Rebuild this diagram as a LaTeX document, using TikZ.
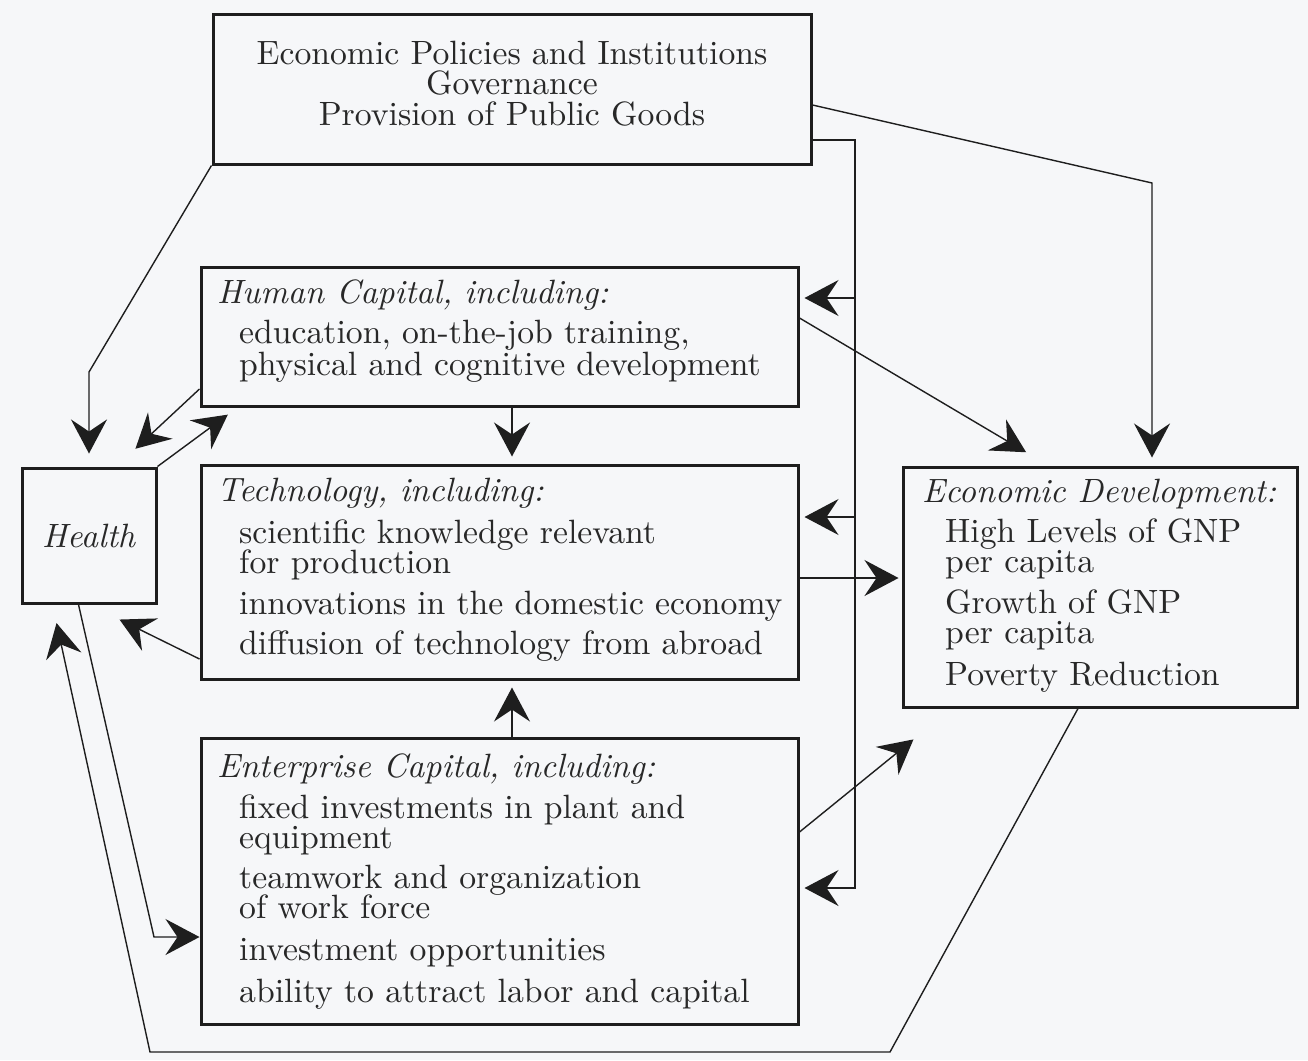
\documentclass[tikz,border=0pt]{standalone}
\usepackage{fontspec}
\setmainfont{lmroman10}[Extension=.otf, UprightFont=*-regular, ItalicFont=*-italic]
\usetikzlibrary{arrows.meta,calc}
\definecolor{bg}{RGB}{246,247,249}
\definecolor{ink}{RGB}{30,30,30}
\definecolor{textc}{RGB}{40,40,40}
\tikzset{
  box/.style={draw=ink, line width=3pt, inner sep=0pt},
  txt/.style={anchor=base west, inner sep=0pt, text=textc, font=\fontsize{33.7}{30}\selectfont},
  conn/.style={draw=ink, line width=1.4pt},
  arr/.style={conn, -{Stealth[length=34pt, width=36pt, inset=12pt]}},
}
\begin{document}
\begin{tikzpicture}[x=1pt, y=-1pt]
  \fill[bg] (0,0) rectangle (1308,1060);
  % boxes
  \node[box, minimum width=598pt, minimum height=150pt] (policy) at (512,89) {};
  \node[box, minimum width=597pt, minimum height=139pt] (hcap) at (499.5,336.5) {};
  \node[box, minimum width=597pt, minimum height=214pt] (tech) at (499.5,572) {};
  \node[box, minimum width=597pt, minimum height=286pt] (ent) at (499.5,881) {};
  \node[box, txt, anchor=center, minimum width=134pt, minimum height=135pt] (health) at (89,535.5) {\textit{Health}};
  \node[box, minimum width=394pt, minimum height=240pt] (econ) at (1100,587) {};
  % texts
  \foreach \t [count=\n] in {Economic Policies and Institutions, Governance, Provision of Public Goods}
    \node[txt, anchor=base] (pol\n) at (512,33.5+30.5*\n) {\t};
  \foreach \x/\y/\t [count=\n] in {
        217/303/\textit{Human Capital, including:},
        239/343/{education, on-the-job training,},
        239/375/physical and cognitive development
  }
    \node[txt] (hc\n) at (\x,\y) {\t};
  \foreach \x/\y/\t [count=\n] in {
        217/501/\textit{Technology, including:},
        239/543/scientific knowledge relevant,
        239/573/for production,
        239/614/innovations in the domestic economy,
        239/654/diffusion of technology from abroad
  }
    \node[txt] (te\n) at (\x,\y) {\t};
  \foreach \x/\y/\t [count=\n] in {
        217/777/\textit{Enterprise Capital, including:},
        239/818/fixed investments in plant and,
        239/848/equipment,
        239/888/teamwork and organization,
        239/918/of work force,
        239/960/investment opportunities,
        239/1002/ability to attract labor and capital
  }
    \node[txt] (en\n) at (\x,\y) {\t};
  \foreach \x/\y/\t [count=\n] in {
        922/502/\textit{Economic Development:},
        945/542/High Levels of GNP,
        945/572/per capita,
        945/613/Growth of GNP,
        945/643/per capita,
        945/685/Poverty Reduction
  }
    \node[txt] (ed\n) at (\x,\y) {\t};
  % policies
  \draw[arr, shorten >=13pt] (policy.south west) -- (health.north |- 0,372) -- (health.north);
  \coordinate (bus) at (855,140);
  \draw[arr, shorten >=5pt] (policy.east |- bus) -- (bus) |- (ent.east |- 0,888);
  \draw[arr, shorten >=5pt] (bus |- 0,298) -- (hcap.east |- 0,298);
  \draw[arr, shorten >=5pt] (bus |- 0,517) -- (tech.east |- 0,517);
  \draw[arr, shorten >=8pt] (policy.east |- 0,105) -- (1152,183) -- (econ.north -| 1152,0);
  % health and the capitals
  \draw[arr, shorten >=26pt] (hcap.west |- 0,389) -- ($(health.north east)!0.3!(health.north west)$);
  \draw[arr, shorten >=12pt] (health.north east) -- ($(hcap.south west)+(38,0)$);
  \draw[arr, shorten >=34pt] (tech.west |- 0,659) -- (health.south);
  \draw[arr] ($(health.south west)+(58,0)$) -- (154,937) -- (ent.west |- 0,937);
  % between the capitals
  \draw[arr, shorten >=7pt] (hcap.south -| policy.south) -- (tech.north -| policy.south);
  \draw[arr, shorten >=7pt] (ent.north -| policy.south) -- (tech.south -| policy.south);
  % to development
  \draw[arr, shorten >=26pt] (hcap.east |- 0,318) -- ($(econ.north west)+(147,0)$);
  \draw[arr, shorten >=3pt] (tech.east |- 0,578) -- (econ.west |- 0,578);
  \draw[arr, shorten >=49pt] (ent.east |- 0,832) -- ($(econ.south west)+(50,0)$);
  % development back to health
  \draw[arr, shorten >=19pt] ($(econ.south)+(-22,0)$) -- (890,1052) -- (150,1052) -- ($(health.south west)+(32,0)$);
\end{tikzpicture}
\end{document}
